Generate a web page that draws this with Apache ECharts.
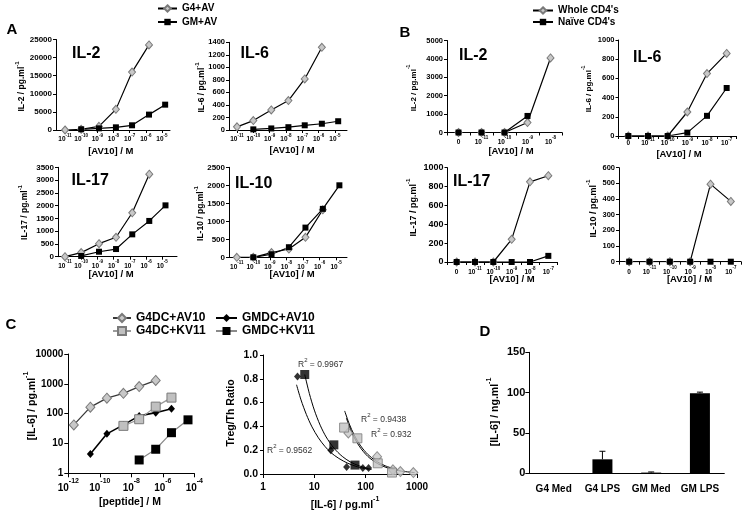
<!DOCTYPE html>
<html><head><meta charset="utf-8">
<script src="https://cdn.jsdelivr.net/npm/echarts@6/dist/echarts.min.js"></script>
<style>html,body{margin:0;padding:0;background:#fff}#c{width:747px;height:516px}</style>
</head><body><div id="c"></div>
<script>
// ---------- DATA ----------
// Panel A (x = log10 [AV10] / M)
const xA = [-11, -10, -8.9, -7.85, -6.85, -5.8, -4.8];
const ticksA = [-11, -10, -9, -8, -7, -6, -5];
const aIL2_G4 = [0, 200, 1000, 5700, 16000, 23500];      // xA[0..5]
const aIL2_GM = [200, 460, 740, 1300, 4250, 7000];       // xA[1..6]
const aIL6_G4 = [50, 150, 320, 470, 815, 1320];
const aIL6_GM = [10, 25, 45, 75, 100, 140];
const aIL17_G4 = [0, 160, 510, 760, 1720, 3230];
const aIL17_GM = [30, 195, 300, 875, 1400, 2010];
const aIL10_G4 = [0, 0, 130, 230, 555, 1320];
const aIL10_GM = [0, 85, 280, 825, 1345, 2000];

// Panel B (categories: exponent of [AV10] / M, '0' = none)
const catsB = ['0', '-11', '-10', '-9', '-8', '-7'];
const bIL2_Whole = [0, 0, 0, 540, 4050];
const bIL2_Naive = [0, 0, 0, 900];
const bIL6_Whole = [0, 0, 0, 250, 650, 860];
const bIL6_Naive = [0, 0, 0, 35, 210, 500];
const bIL17_Whole = [0, 0, 0, 240, 850, 915];
const bIL17_Naive = [0, 0, 0, 0, 0, 65];
const bIL10_Whole = [0, 0, 0, 0, 495, 385];
const bIL10_Naive = [0, 0, 0, 0, 0, 0];

// Panel C left (x = log10 [peptide] / M, y = [IL-6] pg/ml)
const xC = [-11.65, -10.6, -9.55, -8.5, -7.5, -6.45, -5.45, -4.4];
const cG4AV = [42, 165, 330, 480, 810, 1300];   // xC[0..5]
const cGMAV = [4.4, 21, 42, 84, 108, 147];       // xC[1..6]
const cG4KV = [39, 65, 172, 345];                // xC[3..6]
const cGMKV = [2.8, 6.4, 23, 62];                // xC[4..7]

// Panel C right (x = [IL-6] pg/ml, y = Treg/Th ratio)
const rG4AV_x = [46, 167, 340, 475, 850];   const rG4AV_y = [0.345, 0.145, 0.035, 0.02, 0.012];
const rGMAV_x = [4.7, 20.9, 42.6, 88, 114]; const rGMAV_y = [0.82, 0.2, 0.058, 0.05, 0.05];
const rG4KV_x = [38, 69, 172, 326];         const rG4KV_y = [0.39, 0.3, 0.09, 0.012];
const rGMKV_x = [6.5, 24, 62];              const rGMKV_y = [0.836, 0.245, 0.075];
// trend curves, points
const fGMAV_x = [4.5, 5.5, 7, 9, 12, 16, 21, 30, 45, 70, 115];
const fGMAV_y = [0.75, 0.623, 0.5, 0.396, 0.304, 0.233, 0.18, 0.131, 0.09, 0.06, 0.038];
const fGMKV_x = [6.5, 8, 10, 13, 17, 24, 35, 50, 75, 130];
const fGMKV_y = [0.836, 0.676, 0.537, 0.41, 0.311, 0.218, 0.148, 0.102, 0.068, 0.038];
const fG4KV_x = [39, 48, 60, 80, 110, 160, 240, 350];
const fG4KV_y = [0.53, 0.42, 0.327, 0.236, 0.165, 0.108, 0.069, 0.045];
const fG4AV_x = [42, 55, 75, 110, 170, 280, 500, 900];
const fG4AV_y = [0.47, 0.34, 0.234, 0.148, 0.088, 0.048, 0.024, 0.012];
const r2Labels = ['0.9967', '0.9438', '0.932', '0.9562'];

// Panel D
const catsD = ['G4 Med', 'G4 LPS', 'GM Med', 'GM LPS'];
const dVal = [0, 17, 0.5, 99];
const dErr = [0, 10, 0.8, 1.5];

// ---------- HELPERS ----------
const FF = '"Liberation Sans", Arial, sans-serif';
const zip = (xs, ys) => ys.map((y, i) => [xs[i], y]);
function richSup(bs, ss) {
  return {
    b: {fontSize: bs, fontWeight: 'bold', fontFamily: FF, color: '#000', lineHeight: Math.round(bs * 1.6), verticalAlign: 'bottom'},
    s: {fontSize: ss, fontWeight: 'bold', fontFamily: FF, color: '#000', lineHeight: ss, verticalAlign: 'top'}
  };
}
function yVal(gi, max, interval, fs, extra) {
  return Object.assign({gridIndex: gi, type: 'value', min: 0, max: max, interval: interval,
    axisLine: {show: true, lineStyle: {color: '#000', width: 1}},
    axisTick: {show: true, length: 3, lineStyle: {color: '#000'}},
    axisLabel: {fontSize: fs, fontWeight: 'bold', fontFamily: FF, color: '#000', margin: 4, formatter: v => String(v)},
    splitLine: {show: false}}, extra || {});
}
function xLogA(gi, min, max) {
  return {gridIndex: gi, type: 'value', min: min, max: max,
    axisLine: {show: true, onZero: false, lineStyle: {color: '#000', width: 1}},
    axisTick: {show: true, length: 3, customValues: ticksA, lineStyle: {color: '#000'}},
    axisLabel: {customValues: ticksA, margin: 3, formatter: v => '{b|10}{s|' + Math.round(v) + '}', rich: richSup(6.5, 4.5)},
    splitLine: {show: false}};
}
function xCatB(gi, n, margin) {
  return {gridIndex: gi, type: 'category', data: catsB.slice(0, n), boundaryGap: true,
    axisLine: {show: true, onZero: false, lineStyle: {color: '#000', width: 1}},
    axisTick: {show: true, length: 3, lineStyle: {color: '#000'}},
    axisLabel: {margin: margin, interval: 0, formatter: v => v === '0' ? '{b|0}' : '{b|10}{s|' + v + '}', rich: richSup(6.5, 4.5)},
    splitLine: {show: false}};
}
const diamond = {symbol: 'diamond', symbolSize: [7, 8], itemStyle: {color: '#c8c8c8', borderColor: '#7a7a7a', borderWidth: 1}};
const square = {symbol: 'rect', symbolSize: 6, itemStyle: {color: '#000'}};
function lineSeries(name, gi, data, mk, extra) {
  return Object.assign({name: name, type: 'line', xAxisIndex: gi, yAxisIndex: gi, data: data,
    showSymbol: true, lineStyle: {color: '#000', width: 1.2}, z: 3}, mk, extra || {});
}

// ---------- SERIES ----------
const series = [];
const Aset = [[aIL2_G4, aIL2_GM], [aIL6_G4, aIL6_GM], [aIL17_G4, aIL17_GM], [aIL10_G4, aIL10_GM]];
Aset.forEach((p, gi) => {
  series.push(lineSeries('G4+AV', gi, zip(xA.slice(0, 6), p[0]), diamond));
  series.push(lineSeries('GM+AV', gi, zip(xA.slice(1, 7), p[1]), square));
});
const Bset = [[bIL2_Whole, bIL2_Naive], [bIL6_Whole, bIL6_Naive], [bIL17_Whole, bIL17_Naive], [bIL10_Whole, bIL10_Naive]];
Bset.forEach((p, k) => {
  const gi = 4 + k;
  series.push(lineSeries("Whole CD4's", gi, p[0], diamond));
  series.push(lineSeries("Naïve CD4's", gi, p[1], square));
});
series.push(lineSeries('G4DC+AV10', 8, zip(xC.slice(0, 6), cG4AV),
  {symbol: 'diamond', symbolSize: [9, 10], itemStyle: {color: '#c8c8c8', borderColor: '#7a7a7a', borderWidth: 1}},
  {lineStyle: {color: '#3a3a3a', width: 1.3}}));
series.push(lineSeries('GMDC+AV10', 8, zip(xC.slice(1, 7), cGMAV),
  {symbol: 'diamond', symbolSize: [7, 8], itemStyle: {color: '#000'}}, {lineStyle: {color: '#000', width: 1.6}}));
series.push(lineSeries('G4DC+KV11', 8, zip(xC.slice(3, 7), cG4KV),
  {symbol: 'rect', symbolSize: 9, itemStyle: {color: '#c0c0c0', borderColor: '#7a7a7a', borderWidth: 1}},
  {lineStyle: {color: '#9a9a9a', width: 1.2}}));
series.push(lineSeries('GMDC+KV11', 8, zip(xC.slice(4, 8), cGMKV),
  {symbol: 'rect', symbolSize: 9, itemStyle: {color: '#000'}}, {lineStyle: {color: '#8a8a8a', width: 1.2}}));
[[fGMAV_x, fGMAV_y], [fGMKV_x, fGMKV_y], [fG4KV_x, fG4KV_y], [fG4AV_x, fG4AV_y]].forEach((f, i) => {
  series.push({name: 'fit' + i, type: 'line', xAxisIndex: 9, yAxisIndex: 9, data: zip(f[0], f[1]),
    smooth: 0.3, showSymbol: false, symbol: 'none', lineStyle: {color: '#000', width: 1}, z: 2});
});
series.push({name: 'G4DC+AV10', type: 'scatter', xAxisIndex: 9, yAxisIndex: 9, data: zip(rG4AV_x, rG4AV_y),
  symbol: 'diamond', symbolSize: [9, 10], itemStyle: {color: '#c8c8c8', borderColor: '#7a7a7a', borderWidth: 1}, z: 4});
series.push({name: 'G4DC+KV11', type: 'scatter', xAxisIndex: 9, yAxisIndex: 9, data: zip(rG4KV_x, rG4KV_y),
  symbol: 'rect', symbolSize: 9, itemStyle: {color: '#c0c0c0', borderColor: '#7a7a7a', borderWidth: 1}, z: 4});
series.push({name: 'GMDC+AV10', type: 'scatter', xAxisIndex: 9, yAxisIndex: 9, data: zip(rGMAV_x, rGMAV_y),
  symbol: 'diamond', symbolSize: [7, 8], itemStyle: {color: '#000'}, z: 4});
series.push({name: 'GMDC+KV11', type: 'scatter', xAxisIndex: 9, yAxisIndex: 9, data: zip(rGMKV_x, rGMKV_y),
  symbol: 'rect', symbolSize: 9, itemStyle: {color: '#000'}, z: 4});
series.push({name: 'IL-6', type: 'bar', xAxisIndex: 10, yAxisIndex: 10, data: dVal, barWidth: 20, itemStyle: {color: '#000'}});
series.push({name: 'err', type: 'custom', xAxisIndex: 10, yAxisIndex: 10, z: 5,
  data: dVal.map((v, i) => [i, v, dErr[i]]),
  renderItem: (params, api) => {
    const i = api.value(0), v = api.value(1), e = api.value(2);
    if (!e) return null;
    const p0 = api.coord([i, v]), p1 = api.coord([i, v + e]);
    return {type: 'group', children: [
      {type: 'line', shape: {x1: p0[0], y1: p0[1], x2: p1[0], y2: p1[1]}, style: {stroke: '#000', lineWidth: 1}},
      {type: 'line', shape: {x1: p1[0] - 3, y1: p1[1], x2: p1[0] + 3, y2: p1[1]}, style: {stroke: '#000', lineWidth: 1}}
    ]};
  }});

// ---------- TEXT ----------
const graphics = [];
function txt(t, x, y, fs, opt) {
  opt = opt || {};
  const bold = opt.normal ? 'normal' : 'bold';
  const el = {type: 'text', x: x, y: y, silent: true, z: 100,
    style: {text: t, fontSize: fs, fontWeight: bold, fontFamily: FF, fill: opt.color || '#000',
      align: opt.align || 'center', verticalAlign: 'middle',
      rich: {s: {fontSize: Math.round(fs * 0.68), fontWeight: bold, fontFamily: FF, fill: opt.color || '#000', verticalAlign: 'top', lineHeight: Math.round(fs * 0.68)},
             n: {fontSize: fs, fontWeight: bold, fontFamily: FF, fill: opt.color || '#000', verticalAlign: 'bottom', lineHeight: Math.round(fs * 1.4)}}}};
  if (opt.rot) el.rotation = Math.PI / 2;
  graphics.push(el);
}
txt('A', 12, 30, 15); txt('B', 405, 33, 15); txt('C', 11, 325, 15); txt('D', 485, 332, 15);
txt('IL-2', 72, 54, 16, {align: 'left'}); txt('IL-6', 240.5, 54, 16, {align: 'left'});
txt('IL-17', 71.5, 180.5, 16, {align: 'left'}); txt('IL-10', 235, 184, 16, {align: 'left'});
txt('IL-2', 459, 56, 16, {align: 'left'}); txt('IL-6', 633, 58, 16, {align: 'left'});
txt('IL-17', 453, 181.5, 16, {align: 'left'});
const ysup = (a) => '{n|' + a + '}{s|-1}';
txt(ysup('IL-2 / pg.ml'), 20, 86.5, 8.5, {rot: 1}); txt(ysup('IL-6 / pg.ml'), 200.5, 87.5, 8.5, {rot: 1});
txt(ysup('IL-17 / pg.ml'), 23.5, 212.5, 8.5, {rot: 1}); txt(ysup('IL-10 / pg.ml'), 199, 213.5, 8.5, {rot: 1});
txt(ysup('IL-2 / pg.ml'), 412, 88, 8, {rot: 1}); txt(ysup('IL-6 / pg.ml'), 587, 89, 8, {rot: 1});
txt(ysup('IL-17 / pg.ml'), 412, 207.5, 9, {rot: 1}); txt(ysup('IL-10 / pg.ml'), 592, 208.5, 9, {rot: 1});
txt(ysup('[IL-6] / pg.ml'), 30, 406, 10.5, {rot: 1}); txt('Treg/Th Ratio', 231, 413, 10.5, {rot: 1});
txt(ysup('[IL-6] / ng.ml'), 493, 412, 10.5, {rot: 1});
[[110.8, 151], [292, 150], [111, 274], [292, 274], [511, 151], [679, 154], [512, 279], [689.5, 279]]
  .forEach(p => txt('[AV10] / M', p[0], p[1], 9.5));
txt('[peptide] / M', 130, 501.7, 10.5);
txt(ysup('[IL-6] / pg.ml'), 345, 503, 10.5);
[[298, 363.5], [361, 418], [371, 433], [267, 449.3]].forEach((p, i) =>
  txt('{n|R}{s|2}{n| = ' + r2Labels[i] + '}', p[0], p[1], 8.5, {align: 'left', normal: 1, color: '#333'}));

// ---------- OPTION ----------
const legText = (fs) => ({fontSize: fs, fontWeight: 'bold', fontFamily: FF, color: '#000'});
const option = {
  animation: false,
  backgroundColor: '#fff',
  grid: [
    {left: 56, top: 39.5, width: 114, height: 90.5},
    {left: 229, top: 42.3, width: 118, height: 87.7},
    {left: 58, top: 167.3, width: 119, height: 89.4},
    {left: 229, top: 167.3, width: 118, height: 90},
    {left: 447, top: 40.5, width: 115, height: 92},
    {left: 618.5, top: 40, width: 118, height: 96},
    {left: 447.5, top: 167.7, width: 110, height: 94.3},
    {left: 619, top: 167.7, width: 122, height: 94},
    {left: 68.3, top: 354, width: 126, height: 119.3},
    {left: 263, top: 355, width: 154, height: 119},
    {left: 529.3, top: 352.3, width: 195, height: 120.7}
  ],
  xAxis: [
    xLogA(0, -11.56, -4.5), xLogA(1, -11.49, -4.26), xLogA(2, -11.43, -4.09), xLogA(3, -11.47, -4.34),
    xCatB(4, 5, 3), xCatB(5, 6, 1), xCatB(6, 6, 4), xCatB(7, 6, 4),
    {gridIndex: 8, type: 'value', min: -12, max: -4, interval: 2,
      axisLine: {show: true, onZero: false, lineStyle: {color: '#000'}}, axisTick: {length: 4, lineStyle: {color: '#000'}},
      axisLabel: {margin: 4, formatter: v => '{b|10}{s|' + Math.round(v) + '}', rich: richSup(10, 7)}, splitLine: {show: false}},
    {gridIndex: 9, type: 'log', logBase: 10, min: 1, max: 1000,
      axisLine: {show: true, onZero: false, lineStyle: {color: '#000'}}, axisTick: {length: 4, lineStyle: {color: '#000'}},
      axisLabel: {margin: 8, fontSize: 10, fontWeight: 'bold', fontFamily: FF, color: '#000', formatter: v => String(Math.round(v))},
      splitLine: {show: false}, minorTick: {show: false}},
    {gridIndex: 10, type: 'category', data: catsD, boundaryGap: true,
      axisLine: {show: true, onZero: false, lineStyle: {color: '#000'}}, axisTick: {length: 4, lineStyle: {color: '#000'}},
      axisLabel: {margin: 11, interval: 0, fontSize: 10, fontWeight: 'bold', fontFamily: FF, color: '#000'}, splitLine: {show: false}}
  ],
  yAxis: [
    yVal(0, 25000, 5000, 8), yVal(1, 1400, 200, 7.5), yVal(2, 3500, 500, 8), yVal(3, 2500, 500, 8),
    yVal(4, 5000, 1000, 7.5), yVal(5, 1000, 200, 7.5), yVal(6, 1000, 200, 9), yVal(7, 600, 100, 7.5),
    {gridIndex: 8, type: 'log', logBase: 10, min: 1, max: 10000,
      axisLine: {show: true, lineStyle: {color: '#000'}}, axisTick: {show: true, length: 4, lineStyle: {color: '#000'}},
      axisLabel: {fontSize: 10, fontWeight: 'bold', fontFamily: FF, color: '#000', margin: 5, formatter: v => String(Math.round(v))},
      splitLine: {show: false}},
    yVal(9, 1, 0.2, 10.5, {axisLabel: {fontSize: 10.5, fontWeight: 'bold', fontFamily: FF, color: '#000', margin: 5, formatter: v => v.toFixed(1)}}),
    yVal(10, 150, 50, 11, {axisTick: {show: true, length: 4, lineStyle: {color: '#000'}}})
  ],
  legend: [
    {data: ['G4+AV', 'GM+AV'], orient: 'vertical', left: 157, top: 3.5, padding: 0, itemWidth: 19, itemHeight: 8, itemGap: 3.5, textStyle: legText(10), selectedMode: false},
    {data: ["Whole CD4's", "Naïve CD4's"], orient: 'vertical', left: 532, top: 5.5, padding: 0, itemWidth: 20, itemHeight: 8, itemGap: 1.5, textStyle: legText(10), selectedMode: false},
    {data: ['G4DC+AV10', 'G4DC+KV11'], orient: 'vertical', left: 112, top: 312, padding: 0, itemWidth: 18, itemHeight: 10, itemGap: 1, textStyle: legText(12), selectedMode: false},
    {data: ['GMDC+AV10', 'GMDC+KV11'], orient: 'vertical', left: 215, top: 312, padding: 0, itemWidth: 21, itemHeight: 10, itemGap: 1, textStyle: legText(12), selectedMode: false}
  ],
  graphic: graphics,
  series: series
};
const chart = echarts.init(document.getElementById('c'), null, {renderer: 'canvas'});
chart.setOption(option);
</script></body></html>
